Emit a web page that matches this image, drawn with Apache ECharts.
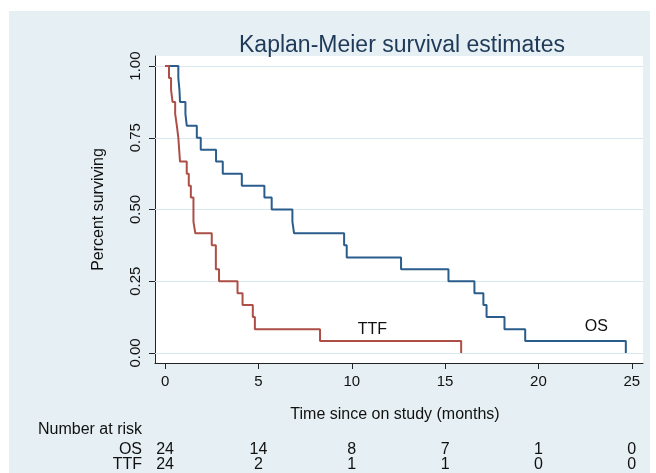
<!DOCTYPE html>
<html>
<head>
<meta charset="utf-8">
<script src="https://cdn.jsdelivr.net/npm/echarts@6/dist/echarts.min.js"></script>
<style>
  html, body { margin: 0; padding: 0; background: #ffffff; }
  #panel { position: absolute; left: 9px; top: 11px; width: 641px; height: 462px; background: #e6eff3; }
  #chart { position: absolute; left: 0; top: 0; width: 656px; height: 473px; }
</style>
</head>
<body>
<div id="panel"></div>
<div id="chart"></div>
<script>
// ---- data ----
const seriesNames = ['OS', 'TTF'];
const timesOS = [0, 0.71, 0.77, 0.80, 1.09, 1.16, 1.70, 1.91, 2.73, 3.09, 4.11, 5.32, 5.71, 6.82, 6.91, 9.59, 9.73, 12.64, 15.18, 16.57, 17.05, 17.22, 18.18, 19.29, 24.68];
const survOS  = [1.000, 0.958, 0.917, 0.875, 0.833, 0.792, 0.750, 0.708, 0.667, 0.625, 0.583, 0.542, 0.500, 0.458, 0.417, 0.375, 0.333, 0.292, 0.250, 0.208, 0.167, 0.125, 0.083, 0.042, 0.000];
const timesTTF = [0, 0.21, 0.32, 0.40, 0.54, 0.63, 0.71, 0.80, 1.16, 1.27, 1.38, 1.52, 1.62, 2.50, 2.72, 2.89, 3.88, 4.15, 4.70, 4.81, 8.30, 15.86];
const survTTF  = [1.000, 0.958, 0.917, 0.875, 0.833, 0.792, 0.750, 0.667, 0.625, 0.583, 0.542, 0.458, 0.417, 0.375, 0.292, 0.250, 0.208, 0.167, 0.125, 0.083, 0.042, 0.000];
const xTicks = [0, 5, 10, 15, 20, 25];
const yTicks = [0, 0.25, 0.5, 0.75, 1];
const riskTimes = [0, 5, 10, 15, 20, 25];
const riskOS  = [24, 14, 8, 7, 1, 0];
const riskTTF = [24, 2, 1, 1, 0, 0];
const labelPosOS = [23.1, 0.092];
const labelPosTTF = [11.1, 0.081];

const FONT = '"Liberation Sans", Arial, sans-serif';
const dataOS = timesOS.map((t, i) => [t, survOS[i]]);
const dataTTF = timesTTF.map((t, i) => [t, survTTF[i]]);

const chart = echarts.init(document.getElementById('chart'), null, { renderer: 'canvas' });

function riskAxis(values, offset) {
  return {
    type: 'value', gridIndex: 0, position: 'bottom', offset: offset,
    min: -0.54, max: 25.6,
    axisLine: { show: false }, axisTick: { show: false }, splitLine: { show: false },
    axisLabel: {
      customValues: riskTimes, margin: 8,
      fontFamily: FONT, fontSize: 16, color: '#111',
      formatter: v => String(values[riskTimes.indexOf(v)])
    }
  };
}

const option = {
  animation: false,
  backgroundColor: 'transparent',
  title: {
    text: 'Kaplan-Meier survival estimates',
    left: 397, top: 29, textAlign: 'center',
    textStyle: { fontFamily: FONT, fontSize: 23, fontWeight: 'normal', color: '#1e3a58' }
  },
  grid: {
    left: 155, top: 56, right: 13, bottom: 110,
    show: true, backgroundColor: '#ffffff', borderWidth: 0
  },
  xAxis: [
    {
      type: 'value', min: -0.54, max: 25.6,
      name: 'Time since on study (months)', nameLocation: 'middle', nameGap: 44,
      nameTextStyle: { fontFamily: FONT, fontSize: 16, color: '#111', padding: [0, 8, 0, 0] },
      axisLine: { show: true, onZero: false, lineStyle: { color: '#222', width: 1 } },
      axisTick: { show: true, customValues: xTicks, length: 6, lineStyle: { color: '#222' } },
      axisLabel: { customValues: xTicks, margin: 11, fontFamily: FONT, fontSize: 15, color: '#111' },
      splitLine: { show: false }
    },
    riskAxis(riskOS, 70.5),
    riskAxis(riskTTF, 86)
  ],
  yAxis: {
    type: 'value', min: -0.035, max: 1.035,
    name: 'Percent surviving', nameLocation: 'middle', nameGap: 48, nameRotate: 90,
    nameTextStyle: { fontFamily: FONT, fontSize: 16, color: '#111' },
    axisLine: { show: true, onZero: false, lineStyle: { color: '#222', width: 1 } },
    axisTick: { show: true, customValues: yTicks, length: 6, lineStyle: { color: '#222' } },
    axisLabel: {
      customValues: yTicks, rotate: 90, margin: 12,
      fontFamily: FONT, fontSize: 15, color: '#111',
      formatter: v => v.toFixed(2)
    },
    splitLine: { show: false }
  },
  graphic: [
    { type: 'text', left: 38, top: 422, style: { text: 'Number at risk', font: '16px ' + FONT, fill: '#111' } },
    { type: 'text', right: 656 - 142, top: 441.5, style: { text: seriesNames[0], font: '16px ' + FONT, fill: '#111', textAlign: 'right' } },
    { type: 'text', right: 656 - 142, top: 457, style: { text: seriesNames[1], font: '16px ' + FONT, fill: '#111', textAlign: 'right' } }
  ],
  series: [
    {
      type: 'line', name: 'grid', data: [], z: 1, silent: true,
      markLine: {
        silent: true, symbol: ['none', 'none'], animation: false, z: 1,
        label: { show: false },
        lineStyle: { color: '#d8e8ef', width: 1, type: 'solid' },
        emphasis: { disabled: true },
        data: yTicks.map(v => ({ yAxis: v }))
      }
    },
    {
      type: 'line', name: seriesNames[0], data: dataOS, step: 'end', z: 3,
      showSymbol: false, symbol: 'none',
      lineStyle: { color: '#2a5d8c', width: 2 },
      emphasis: { disabled: true },
      markPoint: {
        symbol: 'circle', symbolSize: 0, silent: true,
        label: { show: true, position: 'inside', formatter: seriesNames[0], fontFamily: FONT, fontSize: 16, color: '#111' },
        data: [{ coord: labelPosOS }]
      }
    },
    {
      type: 'line', name: seriesNames[1], data: dataTTF, step: 'end', z: 3,
      showSymbol: false, symbol: 'none',
      lineStyle: { color: '#ad4f46', width: 2 },
      emphasis: { disabled: true },
      markPoint: {
        symbol: 'circle', symbolSize: 0, silent: true,
        label: { show: true, position: 'inside', formatter: seriesNames[1], fontFamily: FONT, fontSize: 16, color: '#111' },
        data: [{ coord: labelPosTTF }]
      }
    }
  ]
};
chart.setOption(option);
</script>
</body>
</html>
